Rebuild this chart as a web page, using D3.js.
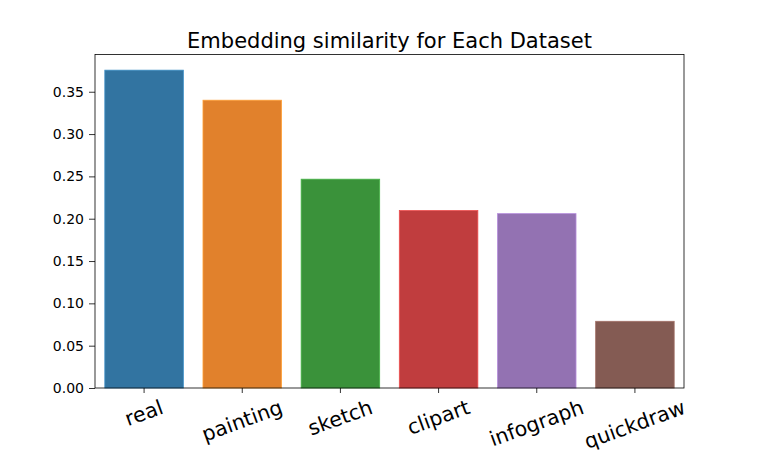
<!DOCTYPE html>
<html>
<head>
<meta charset="utf-8">
<script src="https://cdn.jsdelivr.net/npm/d3@7"></script>
<style>
  body { margin: 0; background: #fff; }
  svg { font-family: "DejaVu Sans", sans-serif; }
</style>
</head>
<body>
<svg id="chart" width="761" height="457"></svg>
<script>
const datasets = ['real', 'painting', 'sketch', 'clipart', 'infograph', 'quickdraw'];
const similarity = [0.3755, 0.340, 0.2467, 0.2096, 0.206, 0.0788];
const barColors = ['#3274a1', '#e1812c', '#3a923a', '#c03d3e', '#9372b2', '#845b53'];
const yTicks = [0, 0.05, 0.1, 0.15, 0.2, 0.25, 0.3, 0.35];

const svg = d3.select('#chart');
const margin = { left: 95, right: 77, top: 54.5, bottom: 69 };
const width = 761 - margin.left - margin.right;
const height = 457 - margin.top - margin.bottom;

const g = svg.append('g').attr('transform', `translate(${margin.left},${margin.top})`);

const x = d3.scaleBand().domain(datasets).range([0, width]).paddingInner(0.2).paddingOuter(0.1);
const y = d3.scaleLinear().domain([0, 0.394]).range([height, 0]);

g.selectAll('rect.bar')
  .data(datasets)
  .enter()
  .append('rect')
  .attr('class', 'bar')
  .attr('x', (d) => x(d))
  .attr('y', (d, i) => y(similarity[i]))
  .attr('width', x.bandwidth())
  .attr('height', (d, i) => height - y(similarity[i]))
  .attr('fill', (d, i) => barColors[i])
  .attr('stroke', (d, i) => d3.color(barColors[i]).brighter(0.6))
  .attr('stroke-width', 0.8);

// frame
g.append('rect')
  .attr('width', width)
  .attr('height', height)
  .attr('fill', 'none')
  .attr('stroke', '#000')
  .attr('stroke-width', 0.8);

const yAxis = g.append('g')
  .call(d3.axisLeft(y).tickValues(yTicks).tickFormat(d3.format('.2f')).tickSize(6).tickPadding(5));
yAxis.select('.domain').remove();
yAxis.selectAll('line').attr('stroke', '#000').attr('stroke-width', 0.8);
yAxis.selectAll('text').attr('font-size', 14).attr('fill', '#000').attr('font-family', 'DejaVu Sans');

const xAxis = g.append('g')
  .attr('transform', `translate(0,${height})`)
  .call(d3.axisBottom(x).tickSize(5).tickPadding(0));
xAxis.select('.domain').remove();
xAxis.selectAll('line').attr('stroke', '#000').attr('stroke-width', 0.8);

// rotated labels: top of the rotated box sits a few px under the axis, like matplotlib
const labelSize = 20.5;
const angle = 20 * Math.PI / 180;
xAxis.selectAll('text')
  .attr('font-size', labelSize)
  .attr('fill', '#000')
  .attr('font-family', 'DejaVu Sans')
  .attr('text-anchor', 'middle')
  .attr('dy', '0.32em')
  .attr('y', 0)
  .each(function () {
    const w = this.getComputedTextLength();
    const h = labelSize * 1.17;
    const cy = 7.5 + (w * Math.sin(angle) + h * Math.cos(angle)) / 2;
    d3.select(this).attr('transform', `translate(0,${cy}) rotate(-20)`);
  });

svg.append('text')
  .attr('x', margin.left + width / 2)
  .attr('y', 48)
  .attr('text-anchor', 'middle')
  .attr('font-size', 21)
  .attr('fill', '#000')
  .text('Embedding similarity for Each Dataset');
</script>
</body>
</html>
